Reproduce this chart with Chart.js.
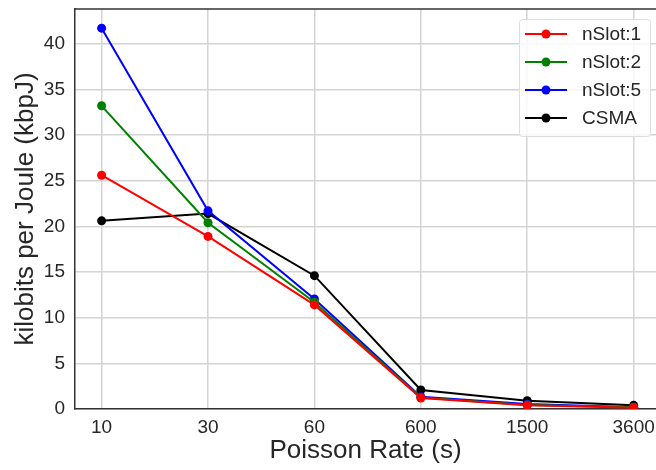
<!DOCTYPE html>
<html>
<head>
<meta charset="utf-8">
<script src="https://cdn.jsdelivr.net/npm/chart.js@4/dist/chart.umd.min.js"></script>
<style>
	html, body { margin: 0; padding: 0; background: #ffffff; }
	#caixa { width: 656px; height: 470px; }
</style>
</head>
<body>
<div id="caixa"><canvas id="meu_grafico"></canvas></div>
<script>
//----------------------------------------Dados----------------------------------------
const taxas = ["10", "30", "60", "600", "1500", "3600"];
const nslot1 = [25.6, 18.9, 11.4, 1.2, 0.4, 0.15];
const nslot2 = [33.2, 20.4, 11.7, 1.25, 0.45, 0.2];
const nslot5 = [41.7, 21.7, 12.05, 1.35, 0.55, 0.2];
const csma = [20.6, 21.4, 14.6, 2.08, 0.9, 0.4];
const y_ticks = [0, 5, 10, 15, 20, 25, 30, 35, 40];

const fonte = "'Liberation Sans', Arial, sans-serif";
const cor_texto = "#262626";

//----------------------------------------Funções----------------------------------------
//Transforma a lista em pontos x/y
function pontos(lista){
	return lista.map((v, i) => ({x: i, y: v}));
}

function serie(nome, lista, cor){
	return {
		label: nome,
		data: pontos(lista),
		borderColor: cor,
		backgroundColor: cor,
		borderWidth: 2,
		pointRadius: 4.5,
		pointHoverRadius: 4.5,
		pointBorderWidth: 0
	};
}

//Desenha a borda de cima e a legenda estilo matplotlib
const plugin_legenda = {
	id: 'legenda_mpl',
	afterDraw(chart){
		const ctx = chart.ctx;
		const area = chart.chartArea;
		ctx.save();
		ctx.strokeStyle = "#333333";
		ctx.lineWidth = 1.5;
		ctx.beginPath();
		ctx.moveTo(area.left, area.top);
		ctx.lineTo(area.right, area.top);
		ctx.stroke();

		const bx = 519, by = 19, bw = 131, bh = 117;
		ctx.fillStyle = "rgba(255,255,255,0.8)";
		ctx.strokeStyle = "#dddddd";
		ctx.lineWidth = 1;
		ctx.beginPath();
		ctx.roundRect(bx + 0.5, by + 0.5, bw, bh, 3);
		ctx.fill();
		ctx.stroke();

		ctx.font = "19px " + fonte;
		ctx.textBaseline = "middle";
		chart.data.datasets.forEach((d, i) => {
			const yy = 34 + i * 28;
			ctx.strokeStyle = d.borderColor;
			ctx.lineWidth = 2;
			ctx.beginPath();
			ctx.moveTo(525, yy);
			ctx.lineTo(567, yy);
			ctx.stroke();
			ctx.fillStyle = d.borderColor;
			ctx.beginPath();
			ctx.arc(546, yy, 4.5, 0, Math.PI * 2);
			ctx.fill();
			ctx.fillStyle = cor_texto;
			ctx.fillText(d.label, 582, yy + 1);
		});
		ctx.restore();
	}
};

//----------------------------------------Grafico----------------------------------------
new Chart(document.getElementById('meu_grafico'), {
	type: 'line',
	data: {
		datasets: [
			serie("nSlot:1", nslot1, "#ff0000"),
			serie("nSlot:2", nslot2, "#008000"),
			serie("nSlot:5", nslot5, "#0000ff"),
			serie("CSMA", csma, "#000000")
		]
	},
	options: {
		responsive: true,
		maintainAspectRatio: false,
		animation: false,
		layout: { autoPadding: false, padding: { top: 9, right: 0, left: 0, bottom: 0 } },
		plugins: {
			legend: { display: false },
			tooltip: { enabled: false }
		},
		scales: {
			x: {
				type: 'linear',
				min: -0.25,
				max: 5.21,
				afterBuildTicks: s => { s.ticks = taxas.map((t, i) => ({value: i})); },
				afterFit: s => { s.height = 61; s.paddingLeft = 0; s.paddingRight = 0; },
				grid: { color: "#d4d4d4", lineWidth: 1.5, drawTicks: false },
				border: { color: "#333333", width: 1.5 },
				ticks: {
					callback: v => taxas[v],
					color: cor_texto,
					padding: 7,
					maxRotation: 0,
					font: { family: fonte, size: 19 }
				},
				title: {
					display: true,
					text: "Poisson Rate (s)",
					color: cor_texto,
					padding: { top: 0, bottom: 4 },
					font: { family: fonte, size: 26 }
				}
			},
			y: {
				min: 0,
				max: 43.8,
				afterBuildTicks: s => { s.ticks = y_ticks.map(v => ({value: v})); },
				afterFit: s => { s.width = 75; s.paddingTop = 0; s.paddingBottom = 0; },
				grid: { color: "#d4d4d4", lineWidth: 1.5, drawTicks: false },
				border: { color: "#333333", width: 1.5 },
				ticks: {
					color: cor_texto,
					padding: 10,
					font: { family: fonte, size: 19 }
				},
				title: {
					display: true,
					text: "kilobits per Joule (kbpJ)",
					color: cor_texto,
					padding: { top: 10, bottom: 0 },
					font: { family: fonte, size: 26 }
				}
			}
		}
	},
	plugins: [plugin_legenda]
});
</script>
</body>
</html>
